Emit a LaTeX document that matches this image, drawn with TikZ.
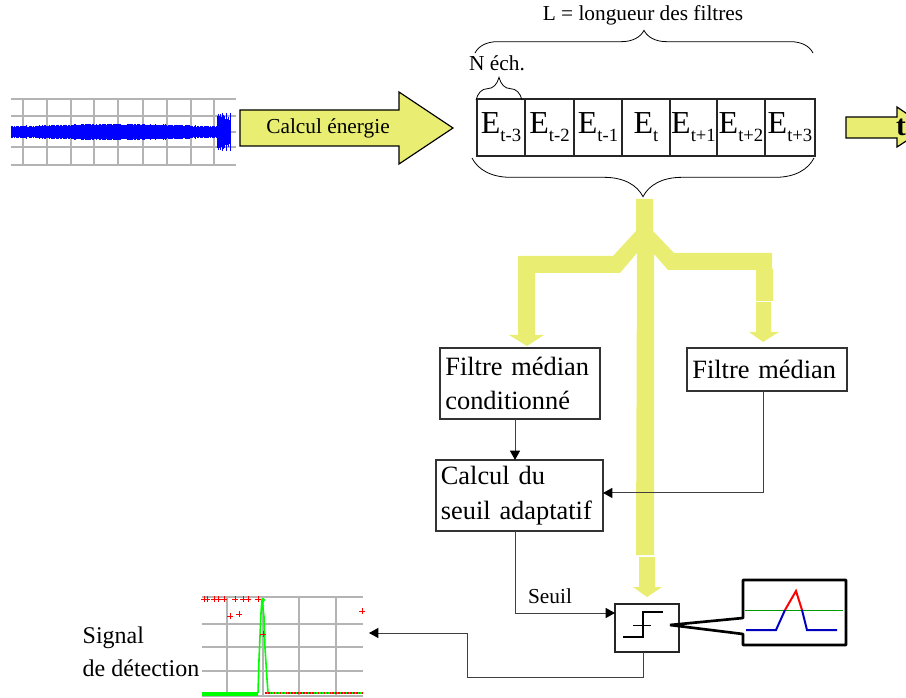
\documentclass[tikz,border=0pt]{standalone}
\usepackage{fontspec}
\setmainfont{Liberation Serif}
\newfontfamily\boxfont[WordSpace=0.6]{Liberation Serif}
\usetikzlibrary{positioning,calc,arrows.meta,decorations.pathreplacing}
\definecolor{flowyellow}{HTML}{E9EE72}
\definecolor{gridgray}{HTML}{B4B4B4}
\newcommand{\enrg}[2]{{\fontsize{24}{24}\selectfont #1}\raisebox{-6pt}{\fontsize{14}{14}\selectfont #2}}
\tikzset{
	ecell/.style={draw=black!85, line width=0.8pt, inner sep=0pt, outer sep=0pt, minimum height=42.75pt},
	procbox/.style={draw=black!80, line width=0.9pt, inner sep=0pt, outer sep=0pt, align=left, font=\boxfont\fontsize{19.8}{26}\selectfont},
	flow/.style={fill=flowyellow, draw=none},
	bigarrow/.style={draw=black, line width=0.9pt, fill=flowyellow},
	link/.style={draw=black!75, line width=0.75pt},
	linkto/.style={link, -{Triangle[length=7pt,width=7.5pt,black]}},
	bracket/.style={draw=black, line width=0.6pt, decorate},
	gridline/.style={draw=gridgray, line width=0.85pt},
	caption/.style={font=\fontsize{16}{20}\selectfont, inner sep=0pt},
}

\begin{document}
\begin{tikzpicture}[x=0.75pt, y=-0.75pt]
	\useasboundingbox (0, 0) rectangle (906, 698);

	\foreach \gx in {23, 47, 71, 94, 118, 143, 167, 191, 214}
		\draw [gridline] (\gx, 99) -- (\gx, 165);
	\foreach \gy in {99, 116, 132, 147, 165}
		\draw [gridline] (11, \gy) -- (236, \gy);
	\pgfmathsetseed{11}
	\foreach \sx in {11, 11.6, ..., 217} {
		\pgfmathsetmacro{\amp}{4.5 + 2.2*sin((\sx-11)*0.87) + 1.6*rnd}
		\draw [blue, line width=0.7pt] (\sx, {132-\amp}) -- (\sx, {132+\amp});
	}
	\foreach \sx in {217, 217.6, ..., 231} {
		\pgfmathsetmacro{\amp}{11 + 8*rnd}
		\draw [blue, line width=0.7pt] (\sx, {132-\amp}) -- (\sx, {132+\amp});
	}

	\draw [bigarrow] (240, 110) -- (399, 110) -- (399, 92) -- (453, 128) -- (399, 164) -- (399, 146) -- (240, 146) -- cycle;
	\node [caption] (calc) at (328, 128) {Calcul énergie};

	\node [ecell, minimum width=36pt] (e1) at (501, 127.5) {\enrg{E}{t-3}};
	\node [ecell, minimum width=36.75pt] (e2) at (549.5, 127.5) {\enrg{E}{t-2}};
	\node [ecell, minimum width=36pt] (e3) at (598, 127.5) {\enrg{E}{t-1}};
	\node [ecell, minimum width=36pt] (e4) at (646, 127.5) {\enrg{E}{t}};
	\node [ecell, minimum width=35.25pt] (e5) at (693.5, 127.5) {\enrg{E}{t+1}};
	\node [ecell, minimum width=36pt] (e6) at (741, 127.5) {\enrg{E}{t+2}};
	\node [ecell, minimum width=37.5pt] (e7) at (790, 127.5) {\enrg{E}{t+3}};

	\draw [bracket, decoration={brace, amplitude=17pt}] (475, 53) -- (813, 53);
	\draw [bracket, decoration={brace, amplitude=17pt}] (476, 100) -- (522, 100);
	\draw [bracket, decoration={brace, amplitude=29pt, mirror}] (472, 158) -- (814, 158);
	\node [caption] (length) at (643, 15) {L = longueur des filtres};
	\node [caption] (samples) at (497, 63) {N éch.};

	\draw [bigarrow] (846, 117) -- (897, 117) -- (897, 107) -- (927, 127.5) -- (897, 147) -- (897, 138) -- (846, 138) -- cycle;
	\node [inner sep=0pt, font=\fontsize{22}{22}\selectfont\bfseries] (time) at (901, 127) {t};

	\fill [flow] (636, 199) -- (653, 199) -- (653, 231) -- (674, 253) -- (772, 253) -- (772, 270) -- (668, 270) -- (654, 254) -- (654, 555) -- (636, 555) -- (637, 253) -- (620, 273) -- (535, 273) -- (535, 335) -- (544, 335) -- (527, 346) -- (509, 335) -- (518, 335) -- (518, 256) -- (613, 256) -- (636, 231) -- cycle;
	\fill [flow] (756, 269) -- (773, 269) -- (773, 301) -- (756, 301) -- cycle;
	\fill [flow] (756, 302) -- (771, 302) -- (771, 332) -- (779, 332) -- (763, 342) -- (749, 332) -- (756, 332) -- cycle;
	\fill [flow] (639, 557) -- (655, 557) -- (655, 587) -- (662, 587) -- (647, 597) -- (633, 587) -- (639, 587) -- cycle;

	\node [procbox, minimum width=120pt, minimum height=53.25pt, text width=112pt] (cond) at (520, 383.5) {Filtre médian\\conditionné};
	\node [procbox, minimum width=120pt, minimum height=32.25pt, text width=112pt] (med) at (767, 369.5) {Filtre médian};
	\node [procbox, minimum width=125.25pt, minimum height=53.25pt, text width=118pt] (adapt) at (519.5, 495.5) {Calcul du\\seuil adaptatif};
	\node [draw=black!85, line width=0.9pt, fill=white, minimum width=48pt, minimum height=36pt, inner sep=0pt, outer sep=0pt] (thresh) at (647, 628) {};
	\node [caption] (seuil) at (550, 596) {Seuil};

	\draw [linkto] ([xshift=-3.75pt]cond.south) -- ([xshift=-3.375pt]adapt.north);
	\draw [linkto] ([xshift=-3pt]med.south) |- ([yshift=1.9pt]adapt.east);
	\draw [linkto] ([xshift=-3.375pt]adapt.south) |- ([yshift=11.25pt]thresh.west);

	\draw [line width=1.6pt] (623, 637) -- (643, 637) -- (643, 612) -- (663, 612);
	\draw [line width=0.75pt] (633, 625) -- (651, 625);

	\draw [line width=2pt, fill=white, line join=bevel] (743, 618) -- (743, 580) -- (846, 580) -- (846, 645) -- (743, 645) -- (743, 634) -- (670, 625) -- cycle;
	\draw [green!60!black, line width=0.75pt] (745, 610) -- (843, 610);
	\draw [blue!75!black, line width=1.5pt] (746, 630) -- (776, 630) -- (785, 610);
	\draw [red, line width=1.5pt] (785, 610) -- (796, 591) -- (802, 610);
	\draw [blue!75!black, line width=1.5pt] (802, 610) -- (807, 630) -- (837, 630);

	\foreach \gx in {227, 263, 299, 336}
		\draw [gridline] (\gx, 597) -- (\gx, 696);
	\foreach \gy in {597, 624, 647, 671, 696}
		\draw [gridline] (202, \gy) -- (363, \gy);
	\draw [green, line width=3pt] (202, 693.5) -- (258, 693.5);
	\draw [green, line width=1.2pt] (258, 693) -- (259, 660) -- (260, 636) -- (261, 613) -- (262, 599) -- (264, 617) -- (265, 648) -- (267, 679) -- (268, 693) -- (363, 693);
	\draw [red, line width=1.2pt, densely dotted] (265, 693) -- (363, 693);
	\foreach \px/\py in {204/599, 207/599, 214/599, 218/599, 224/599, 235/599, 243/599, 248/599, 258/599, 230/616, 239/614, 263/634, 362/611}
		\draw [red, line width=0.7pt] ({\px-3}, \py) -- ({\px+3}, \py) ({\px}, {\py-3}) -- ({\px}, {\py+3});
	\fill [green] (263, 600) circle (2);

	\node [align=left, inner sep=0pt, font=\fontsize{18}{25}\selectfont] (signal) at (141, 652) {Signal\\de détection};

	\coordinate (detect) at (369, 633);
	\coordinate (bend) at (467, 677);
	\draw [linkto] ([xshift=-3pt]thresh.south) |- (bend) |- (detect);
\end{tikzpicture}
\end{document}
